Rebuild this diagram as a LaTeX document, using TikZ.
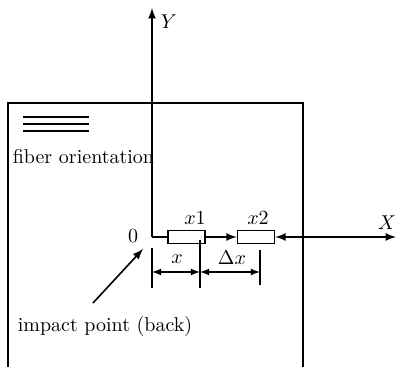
\documentclass[tikz,border=0pt]{standalone}
\usetikzlibrary{positioning}
\begin{document}
\begin{tikzpicture}[x=0.5pt,y=-0.5pt,>=latex,line width=0.8pt,every node/.style={font=\normalsize},
  gauge/.style={draw,minimum width=18.5pt,minimum height=6.5pt,inner sep=0pt},
  dimline/.style={<->,line width=0.6pt}]
\useasboundingbox (0,0) rectangle (397,367);
% specimen outline
\draw (8,367) -- (8,103) -- (303,103) -- (303,367);
% fiber orientation
\foreach \y in {117,124,131} \draw (23,\y) -- (89,\y);
\node[anchor=west,inner sep=0pt] (fib) at (12,157) {fiber orientation};
% axes and gauges
\coordinate (orig) at (152,237);
\coordinate (ytop) at (152,8);
\coordinate (xend) at (396,237);
\node[gauge] (g1) at (186.5,237) {};
\node[gauge] (g2) at (256,237) {};
\draw[->] (orig) -- (ytop);
\draw (orig) -- (g1.west);
\draw[->] (g1.east) -- (g2.west);
\draw[<->] (g2.east) -- (xend);
\node (ylab) at (169,22) {$Y$};
\node (xlab) at (387,223) {$X$};
\node (olab) at (133,236) {0};
\node (x1lab) at (195,218) {$x1$};
\node (x2lab) at (258,218) {$x2$};
% dimensions
\draw[line width=0.6pt] (152,248) -- (152,288) (200,240) -- (200,288) (260,250) -- (260,285);
\coordinate (d0) at (152,272);
\coordinate (d1) at (200,272);
\coordinate (d2) at (260,272);
\draw[dimline] (d0) -- (d1);
\draw[dimline] (d1) -- (d2);
\node (dxlab) at (177,259) {$x$};
\node (ddxlab) at (232,258) {$\Delta x$};
% impact point
\coordinate (itail) at (93,303);
\coordinate (ihead) at (143,249);
\draw[->] (itail) -- (ihead);
\node[anchor=west,inner sep=0pt] (ilab) at (17,327) {impact point (back)};
\end{tikzpicture}
\end{document}
